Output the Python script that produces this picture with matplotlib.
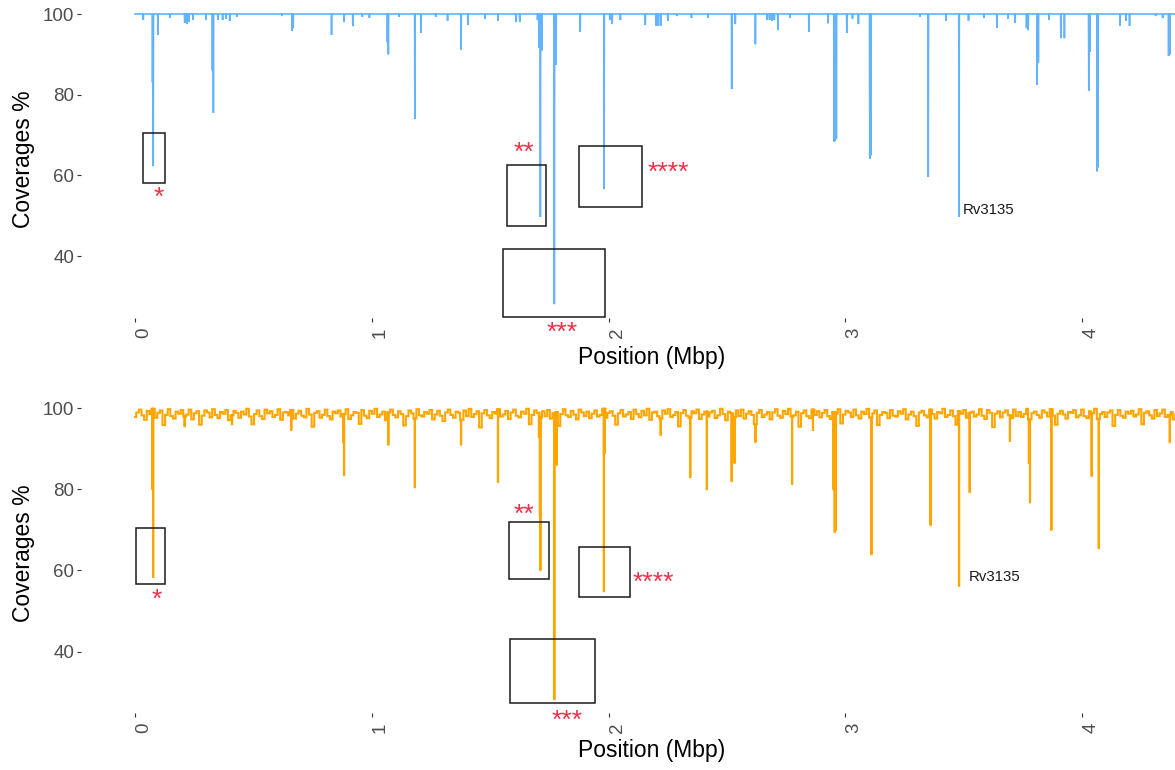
import numpy as np
import matplotlib
matplotlib.use("Agg")
import matplotlib.pyplot as plt
from matplotlib.patches import Rectangle

plt.rcParams['font.family'] = ['Liberation Sans', 'DejaVu Sans']

GENOME_MBP = 4.41

# --- upper panel (blue): coverage sits at 100 apart from these dips ---
top_dip_pos = [0.035, 0.074, 0.077, 0.097, 0.148, 0.21, 0.22, 0.228, 0.245, 0.30,
               0.327, 0.331, 0.35, 0.37, 0.385, 0.40, 0.43, 0.62, 0.664, 0.668,
               0.83, 0.883, 0.92, 0.96, 0.99, 1.066, 1.07, 1.115, 1.182, 1.208,
               1.27, 1.32, 1.377, 1.406, 1.478, 1.533, 1.61, 1.625, 1.70, 1.706,
               1.712, 1.718, 1.771, 1.778, 1.88, 1.981, 2.005, 2.015, 2.05, 2.155,
               2.20, 2.21, 2.22, 2.25, 2.29, 2.35, 2.42, 2.52, 2.535, 2.62,
               2.67, 2.68, 2.69, 2.70, 2.715, 2.766, 2.846, 2.927, 2.952, 2.957,
               2.962, 3.006, 3.03, 3.055, 3.103, 3.108, 3.315, 3.35, 3.425, 3.48,
               3.52, 3.585, 3.64, 3.687, 3.716, 3.765, 3.772, 3.81, 3.815, 3.86,
               3.91, 3.925, 4.028, 4.033, 4.063, 4.067, 4.16, 4.185, 4.20, 4.31,
               4.34, 4.365, 4.37]
top_dip_val = [98.5, 83.0, 62.3, 94.8, 99.1, 97.8, 97.5, 98.0, 98.5, 98.5,
               86.0, 75.5, 98.5, 98.5, 98.8, 98.3, 99.3, 99.5, 95.8, 96.5,
               94.8, 98.0, 97.0, 99.3, 99.0, 93.0, 90.0, 99.3, 74.0, 95.3,
               99.3, 98.3, 91.2, 97.3, 98.8, 98.3, 98.0, 98.0, 98.5, 91.6,
               49.7, 91.0, 28.1, 87.4, 95.6, 56.6, 98.5, 97.5, 98.5, 97.3,
               97.1, 97.1, 97.1, 98.3, 99.5, 99.0, 99.0, 81.4, 97.5, 92.5,
               98.5, 98.5, 98.3, 98.5, 96.0, 99.0, 95.6, 97.7, 68.3, 68.5,
               69.0, 95.3, 98.8, 97.5, 64.1, 65.0, 99.3, 59.6, 98.3, 49.7,
               98.3, 99.0, 96.6, 98.8, 97.8, 96.5, 96.0, 82.4, 88.0, 98.5,
               94.0, 94.0, 81.0, 90.6, 61.0, 62.0, 97.1, 98.3, 97.1, 99.5,
               99.0, 89.6, 90.0]

# --- lower panel (orange): noisy baseline read along the genome ---
low_base_val = [
    97.8, 98.9, 99.6, 98.2, 97.1, 99.3, 98.5, 99.8, 97.6, 98.8, 99.4, 95.8, 98.3, 99.7, 98.0, 97.4, 99.1, 98.6, 99.5, 97.9,
    98.4, 99.6, 97.2, 98.7, 99.2, 95.9, 98.1, 99.4, 98.9, 97.7, 99.7, 98.3, 97.5, 99.0, 98.6, 99.5, 97.0, 98.2, 99.3, 98.8,
    97.6, 99.1, 98.4, 99.8, 97.9, 96.0, 98.5, 99.4, 98.0, 97.3, 99.6, 98.7, 99.2, 97.8, 98.3, 99.7, 97.1, 98.9, 99.0, 98.2,
    99.5, 97.4, 98.6, 99.3, 98.1, 97.7, 99.8, 98.4, 95.4, 98.8, 99.2, 97.6, 98.3, 99.6, 98.0, 97.2, 99.1, 98.7, 99.4, 97.9,
    98.5, 99.7, 97.3, 98.2, 99.0, 98.8, 96.1, 99.5, 98.1, 97.5, 99.3, 98.6, 99.8, 97.8, 98.4, 99.1, 97.0, 98.9, 99.6, 98.3,
    97.7, 99.2, 98.5, 95.7, 98.0, 99.4, 98.7, 97.4, 99.7, 98.2, 97.9, 99.0, 98.6, 99.5, 97.2, 98.4, 99.3, 98.1, 96.8, 98.9,
    99.6, 98.3, 97.6, 99.1, 98.8, 97.1, 99.4, 98.0, 99.8, 97.8, 98.5, 99.2, 95.2, 98.7, 99.5, 98.2, 97.5, 99.0, 98.6, 99.7,
    97.9, 98.4, 99.3, 97.3, 98.9, 99.6, 98.1, 97.7, 99.1, 98.6, 99.8, 96.0, 98.3, 99.4, 98.8, 97.6, 99.2, 98.0, 99.5, 97.4,
    98.7, 99.0, 95.6, 98.5, 99.7, 98.2, 97.8, 99.3, 98.4, 97.2, 99.6, 98.9, 98.0, 99.1, 97.5, 98.6, 99.4, 97.9, 98.3, 99.8,
    97.6, 98.8, 99.2, 98.1, 95.9, 98.7, 99.5, 97.9, 98.4, 99.0, 97.3, 99.6, 98.5, 97.7, 99.3, 98.2, 99.8, 97.1, 98.9, 99.1,
    98.0, 97.4, 99.4, 98.6, 99.7, 97.8, 98.3, 99.0, 95.5, 98.8, 99.5, 98.1, 97.6, 99.2, 98.7, 99.6, 97.3, 98.4, 99.1, 97.9,
    98.9, 99.3, 97.5, 98.2, 99.8, 98.5, 97.0, 99.1, 98.7, 97.7, 99.4, 98.0, 99.6, 97.4, 98.6, 99.2, 98.3, 96.0, 98.8, 99.5,
    97.8, 98.4, 99.0, 97.2, 98.9, 99.7, 98.1, 97.6, 99.3, 98.5, 99.8, 97.9, 98.2, 99.1, 95.4, 98.7, 99.4, 98.0, 97.5, 99.6,
    98.3, 99.2, 97.7, 98.8, 99.5, 98.0, 97.3, 99.0, 98.6, 99.7, 96.2, 98.4, 99.3, 98.9, 97.8, 99.6, 98.2, 97.4, 99.1, 98.5,
    99.8, 97.6, 98.7, 99.4, 95.8, 98.3, 99.0, 98.8, 97.5, 99.5, 98.1, 97.9, 99.2, 98.6, 99.7, 97.2, 98.4, 99.1, 98.0, 95.6,
    98.9, 99.3, 98.2, 97.7, 99.6, 98.5, 97.4, 99.0, 98.7, 99.8, 97.8, 98.3, 99.4, 98.0, 95.9, 99.2, 98.6, 99.5, 97.6, 98.8,
    99.1, 97.9, 98.4, 99.7, 98.1, 97.3, 99.5, 98.8, 95.3, 98.6, 99.2, 97.7, 98.9, 99.4, 98.2, 97.5, 99.6, 98.0, 99.0, 97.8,
    98.5, 99.8, 97.2, 98.7, 99.1, 98.3, 97.6, 99.4, 98.9, 97.9, 99.7, 98.1, 95.9, 98.6, 99.3, 98.4, 97.4, 99.0, 98.8, 99.5,
    97.7, 98.2, 99.6, 98.0, 97.5, 99.2, 98.7, 99.8, 97.3, 98.5, 99.0, 97.8, 98.9, 99.4, 95.6, 98.3, 99.5, 98.1, 97.6, 99.1,
    98.6, 99.3, 97.9, 98.4, 99.7, 96.0, 98.8, 99.2, 98.2, 97.4, 99.5, 98.0, 98.7, 99.6, 97.8, 98.3, 99.0, 97.2, 98.5, 95.5]

low_dip_pos = [0.074, 0.077, 0.21, 0.41, 0.66, 0.88, 0.883, 1.07, 1.182, 1.377,
               1.533, 1.706, 1.71, 1.712, 1.771, 1.78, 1.98, 1.983, 2.22, 2.345,
               2.415, 2.52, 2.532, 2.62, 2.775, 2.863, 2.95, 2.955, 2.96, 3.11,
               3.36, 3.48, 3.525, 3.695, 3.775, 3.78, 3.87, 4.04, 4.07, 4.37]
low_dip_val = [80.0, 58.4, 95.5, 96.0, 94.6, 91.6, 83.5, 91.0, 80.5, 91.0,
               81.8, 92.9, 73.6, 60.1, 28.3, 86.0, 54.9, 88.9, 93.4, 83.0,
               80.0, 82.0, 86.5, 91.6, 81.3, 94.6, 80.0, 69.5, 70.0, 64.0,
               71.2, 56.2, 79.3, 91.9, 86.5, 76.8, 70.0, 83.3, 65.5, 91.6]

# highlighted regions: x0, x1 (Mbp), y0, y1 (%), and their stars
top_boxes = [(0.034, 0.127, 58.1, 70.5), (1.571, 1.736, 47.5, 62.6),
             (1.554, 1.985, 24.9, 41.8), (1.875, 2.141, 52.2, 67.3)]
top_stars = [("*", 0.101, 54.5), ("**", 1.643, 65.7), ("***", 1.803, 21.1), ("****", 2.251, 60.7)]
top_label = ("Rv3135", 3.497, 51.4)

low_boxes = [(0.004, 0.127, 56.7, 70.4), (1.579, 1.748, 57.9, 71.9),
             (1.584, 1.943, 27.3, 43.1), (1.875, 2.090, 53.4, 65.8)]
low_stars = [("*", 0.093, 52.8), ("**", 1.643, 73.8), ("***", 1.824, 23.0), ("****", 2.188, 57.0)]
low_label = ("Rv3135", 3.522, 58.4)


def build_trace(base_x, base_y, dip_x, dip_y, w=0.0012):
    """Insert narrow drops into the baseline trace."""
    base_x = np.asarray(base_x, dtype=float)
    base_y = np.asarray(base_y, dtype=float)
    xs = list(base_x)
    ys = list(base_y)
    for p, v in zip(dip_x, dip_y):
        b = base_y[np.argmin(np.abs(base_x - p))]
        xs += [p - w, p, p + w]
        ys += [b, v, b]
    order = np.argsort(xs, kind="stable")
    return np.array(xs)[order], np.array(ys)[order]


def draw_panel(ax, x, y, color, boxes, stars, label, ylim, lw=1.2, ds="default"):
    ax.plot(x, y, color=color, lw=lw, drawstyle=ds, solid_joinstyle="miter")
    for x0, x1, y0, y1 in boxes:
        ax.add_patch(Rectangle((x0, y0), x1 - x0, y1 - y0, fill=False,
                               ec="#1a1a1a", lw=1.1, zorder=3))
    for s, sx, sy in stars:
        ax.text(sx, sy, s, color="#EE3049", fontsize=19, ha="center", va="center",
                clip_on=False)
    ax.text(label[1], label[2], label[0], fontsize=10.8, color="#1a1a1a",
            ha="left", va="center")

    ax.set_xlim(-0.228, 4.392)
    ax.set_ylim(*ylim)
    for sp in ax.spines.values():
        sp.set_visible(False)
    ax.set_yticks([40, 60, 80, 100])
    ax.set_xticks([0, 1, 2, 3, 4])
    ax.set_xticklabels(["0", "1", "2", "3", "4"], rotation=90, ha="left", va="top")
    ax.tick_params(axis="both", colors="#333333", labelcolor="#4D4D4D",
                   labelsize=13.5, length=3, width=0.8, pad=2)
    ax.tick_params(axis="x", pad=4)
    ax.set_ylabel("Coverages %", fontsize=16.5, color="black")
    ax.yaxis.set_label_coords(-0.053, 0.5)
    ax.yaxis.label.set_va("center")
    ax.set_xlabel("Position (Mbp)", fontsize=16.5, color="black")
    ax.xaxis.label.set_va("center")


fig = plt.figure(figsize=(11.75, 7.7), dpi=100)
ax_top = fig.add_axes([81 / 1175, 1 - 318 / 770, 1094 / 1175, 318 / 770])
ax_low = fig.add_axes([81 / 1175, 1 - 713 / 770, 1094 / 1175, 319 / 770])

tx, ty = build_trace([0, GENOME_MBP], [100, 100], top_dip_pos, top_dip_val)
draw_panel(ax_top, tx, ty, "#63B3FF", top_boxes, top_stars, top_label, (24.66, 103.47))
ax_top.xaxis.set_label_coords(0.522, -0.125)

low_x = np.linspace(0, GENOME_MBP, len(low_base_val))
lx, ly = build_trace(low_x, low_base_val, low_dip_pos, low_dip_val)
draw_panel(ax_low, lx, ly, "#FFA500", low_boxes, low_stars, low_label, (24.88, 103.45),
           lw=1.5, ds="steps-mid")
ax_low.xaxis.set_label_coords(0.522, -0.118)

fig.savefig("out.png", dpi=100, facecolor="white")
